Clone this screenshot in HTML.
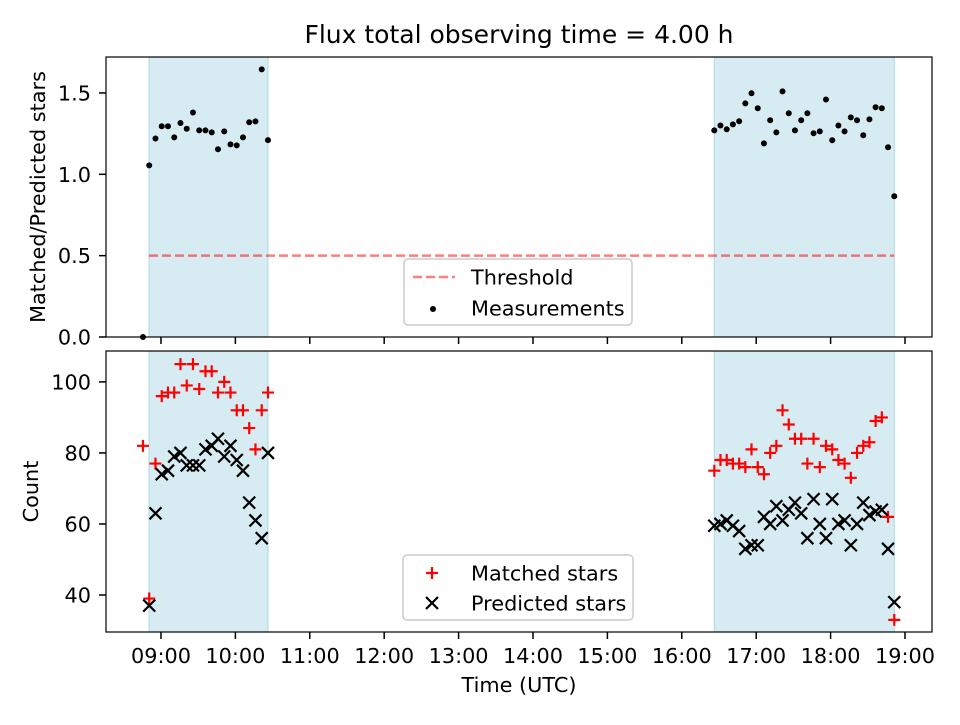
<!DOCTYPE html>
<html><head><meta charset="utf-8"><style>
html,body{margin:0;padding:0;background:#fff;}
svg text{font-family:"DejaVu Sans","Liberation Sans",sans-serif;fill:#000;}
</style></head><body>
<svg id="chart" width="960" height="720" xmlns="http://www.w3.org/2000/svg"></svg>
<script>
// ---- data ----
const tick_hours = [9,10,11,12,13,14,15,16,17,18,19];
const tick_labels = ["09:00","10:00","11:00","12:00","13:00","14:00","15:00","16:00","17:00","18:00","19:00"];
const ratio_ticks = [0.0,0.5,1.0,1.5];
const count_ticks = [40,60,80,100];
const shade_spans = [[8.839,10.438],[16.437,18.856]];
const threshold = 0.5;
const times = [8.758,8.842,8.926,9.010,9.094,9.178,9.262,9.346,9.430,9.514,9.598,9.682,9.766,9.850,9.934,10.018,10.102,10.186,10.270,10.354,10.438,
 16.437,16.520,16.604,16.687,16.771,16.854,16.937,17.021,17.104,17.188,17.271,17.354,17.438,17.521,17.605,17.688,17.771,17.855,17.938,18.022,18.105,18.188,18.272,18.355,18.439,18.522,18.605,18.689,18.772,18.856];
const ratio = [0,1.055,1.22,1.295,1.295,1.227,1.315,1.28,1.38,1.27,1.27,1.258,1.154,1.264,1.184,1.178,1.227,1.32,1.325,1.645,1.21,
 1.27,1.30,1.277,1.307,1.326,1.436,1.498,1.406,1.19,1.332,1.258,1.51,1.375,1.27,1.332,1.375,1.252,1.264,1.46,1.209,1.30,1.264,1.35,1.332,1.24,1.338,1.412,1.406,1.166,0.865];
const matched = [82,39,77,96,97,97,105,99,105,98,103,103,97,100,97,92,92,87,81,92,97,
 75,78,78,77,77,76,81,76,74,80,82,92,88,84,84,77,84,76,82,81,78,77,73,80,82,83,89,90,62,33];
const predicted = [null,37,63,74,75,79,80,76.5,76.5,76.5,81,82,84,79,82,78,75,66,61,56,80,
 59.5,60,61,59.5,58,53,54,54,62,60,65,61,64,66,63,56,67,60,56,67,60,61,54,60,66,62.5,63.5,64,53,38];

// ---- axes ----
const L=106,R=932, T1=57,B1=337, T2=351,B2=632;
const X0=8.261,X1=19.363;
const FS=20.8;
const x=h=>L+(h-X0)/(X1-X0)*(R-L);
const y1=v=>B1-(v-0)/(1.721-0)*(B1-T1);
const y2=v=>B2-(v-29.58)/(108.7-29.58)*(B2-T2);
const svg=document.getElementById('chart');
const NS='http://www.w3.org/2000/svg';
function mk(tag,attrs,parent){const e=document.createElementNS(NS,tag);for(const k in attrs)e.setAttribute(k,attrs[k]);(parent||svg).appendChild(e);return e;}

function panel(top,bot,yf,yticks,ylabel,ytickfmt,showX,pname){
  const g=mk('g',{});
  
  
  shade_spans.forEach((s,i)=>{
    const r=mk('rect',{x:x(s[0]),y:top,width:x(s[1])-x(s[0]),height:bot-top,fill:'#add8e6','fill-opacity':0.5,stroke:'#add8e6','stroke-width':1},g);
    
    
  });
  tick_hours.forEach((h,i)=>{
    mk('line',{x1:x(h),x2:x(h),y1:bot,y2:bot+7,stroke:'#000','stroke-width':1.5},g);
    if(showX){const t=mk('text',{x:x(h),y:bot+31,'font-size':FS,'text-anchor':'middle'},g);t.textContent=tick_labels[i];
      }
  });
  yticks.forEach(v=>{
    mk('line',{x1:L-7,x2:L,y1:yf(v),y2:yf(v),stroke:'#000','stroke-width':1.5},g);
    const t=mk('text',{x:L-15,y:yf(v)+7.5,'font-size':FS,'text-anchor':'end'},g);t.textContent=ytickfmt(v);
    
  });
  const yl=mk('text',{x:0,y:0,'font-size':FS,'text-anchor':'middle',transform:`translate(${ylabel[1]},${(top+bot)/2}) rotate(-90)`},g);
  yl.textContent=ylabel[0];
  
  return g;
}

const title=mk('text',{x:519,y:43,'font-size':25,'text-anchor':'middle'});
title.textContent='Flux total observing time = 4.00 h';


const p1=panel(T1,B1,y1,ratio_ticks,['Matched/Predicted stars',45],v=>v.toFixed(1),false,'ratio-panel');
const th=mk('line',{x1:x(shade_spans[0][0]),x2:x(shade_spans[1][1]),y1:y1(threshold),y2:y1(threshold),stroke:'#ff0000','stroke-opacity':0.5,'stroke-width':2.5,'stroke-dasharray':'9,4'},p1);

times.forEach((t,i)=>{const c=mk('circle',{cx:x(t),cy:y1(ratio[i]),r:3,fill:'#000'},p1);
  });
mk('rect',{x:L,y:T1,width:R-L,height:B1-T1,fill:'none',stroke:'#000','stroke-width':1.2},p1);

const p2=panel(T2,B2,y2,count_ticks,['Count',38],v=>String(v),true,'count-panel');
function plus(cx,cy,g){return mk('path',{d:`M${cx-6},${cy}H${cx+6}M${cx},${cy-6}V${cy+6}`,stroke:'#ff0000','stroke-width':2.2,fill:'none'},g);}
function cross(cx,cy,g){return mk('path',{d:`M${cx-6},${cy-6}L${cx+6},${cy+6}M${cx-6},${cy+6}L${cx+6},${cy-6}`,stroke:'#000','stroke-width':2.2,fill:'none'},g);}
times.forEach((t,i)=>{const e=plus(x(t),y2(matched[i]),p2);
  });
times.forEach((t,i)=>{if(predicted[i]==null)return;const e=cross(x(t),y2(predicted[i]),p2);
  });
mk('rect',{x:L,y:T2,width:R-L,height:B2-T2,fill:'none',stroke:'#000','stroke-width':1.2},p2);
const xt=mk('text',{x:519,y:692,'font-size':FS,'text-anchor':'middle'});
xt.textContent='Time (UTC)';

// legends
function legend(x0,y0,w,h,name){const g=mk('g',{});
  mk('rect',{x:x0,y:y0,width:w,height:h,rx:4,fill:'#fff','fill-opacity':0.8,stroke:'#cccccc','stroke-width':1.5},g);return g;}
const lg1=legend(404,259,228,66,'ratio-legend');
mk('line',{x1:413,x2:455,y1:277,y2:277,stroke:'#ff0000','stroke-opacity':0.5,'stroke-width':2.5,'stroke-dasharray':'9,4'},lg1);
let t=mk('text',{x:471,y:284.5,'font-size':FS},lg1);t.textContent='Threshold';

mk('circle',{cx:433,cy:309,r:3,fill:'#000'},lg1);
t=mk('text',{x:471,y:315.5,'font-size':FS},lg1);t.textContent='Measurements';


const lg2=legend(403,555,230,65,'count-legend');
plus(432,573,lg2);
t=mk('text',{x:471,y:580.5,'font-size':FS},lg2);t.textContent='Matched stars';

cross(432,603,lg2);
t=mk('text',{x:471,y:610.5,'font-size':FS},lg2);t.textContent='Predicted stars';

</script>
</body></html>
